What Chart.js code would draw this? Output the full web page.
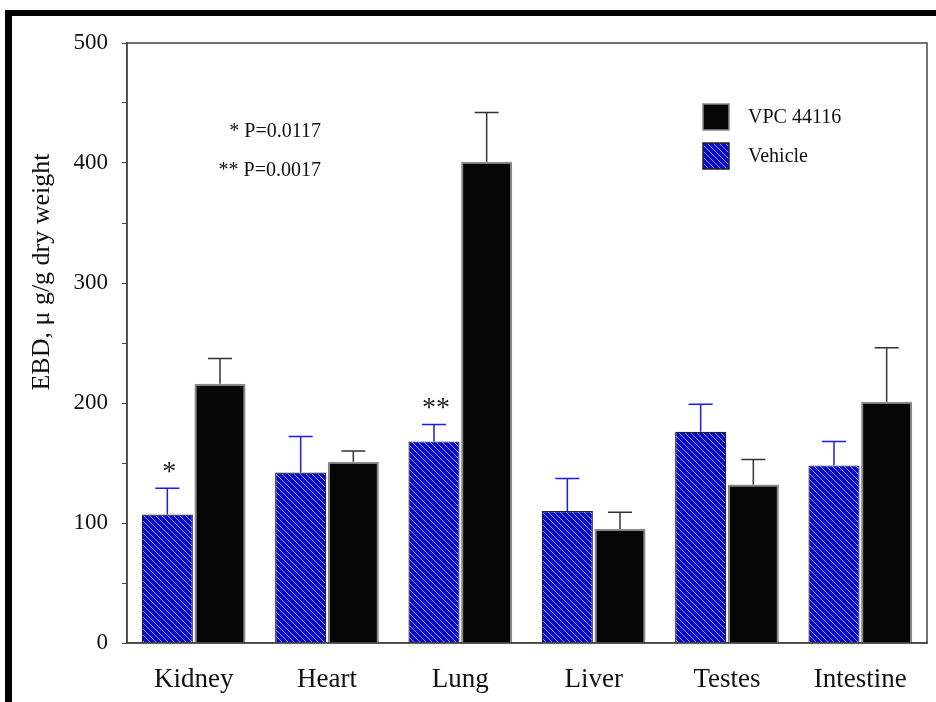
<!DOCTYPE html>
<html>
<head>
<meta charset="utf-8">
<script src="https://cdn.jsdelivr.net/npm/chart.js@4"></script>
<style>
  body { margin: 0; background: #fff; }
  #wrap { position: relative; width: 936px; height: 702px; }
  #frame { position: absolute; left: 5px; top: 10px; width: 931px; height: 692px;
           border-top: 6px solid #000; border-left: 7px solid #000; box-sizing: border-box; }
  canvas { position: absolute; left: 0; top: 0; }
</style>
</head>
<body>
<div id="wrap">
  <div id="frame"></div>
  <canvas id="ebdChart" width="936" height="702"></canvas>
</div>
<script>
const organs = ['Kidney', 'Heart', 'Lung', 'Liver', 'Testes', 'Intestine'];
const vehicle = [107, 142, 168, 110, 176, 148];
const vehicleErr = [22, 30, 14, 27, 23, 20];
const vpc = [216, 151, 401, 95, 132, 201];
const vpcErr = [21, 9, 41, 14, 21, 45];
const sigMarks = ['*', '', '**', '', '', ''];
const pNotes = ['* P=0.0117', '** P=0.0017'];

const serif = 'Liberation Serif';

// blue hatch like the original print
function makeHatch() {
    const s = 6;
    const c = document.createElement('canvas');
    c.width = s; c.height = s;
    const p = c.getContext('2d');
    p.fillStyle = '#0808c8';
    p.fillRect(0, 0, s, s);
    p.strokeStyle = '#8a96ff';
    p.lineWidth = 1;
    for (let k = -1; k <= 1; k++) {
        p.beginPath();
        p.moveTo(-1, -1 + k * s);
        p.lineTo(s + 1, s + 1 + k * s);
        p.stroke();
    }
    return p.createPattern(c, 'repeat');
}
const hatch = makeHatch();

const extras = {
    id: 'extras',
    afterDatasetsDraw(chart) {
        const { ctx, chartArea: a, scales: { y } } = chart;
        ctx.save();

        // box around the plot
        ctx.strokeStyle = '#444';
        ctx.lineWidth = 1.5;
        ctx.strokeRect(a.left, a.top, a.right - a.left, a.bottom - a.top);

        // error bars (upper only)
        chart.data.datasets.forEach((ds, i) => {
            const meta = chart.getDatasetMeta(i);
            ctx.strokeStyle = ds.errorColor;
            ctx.lineWidth = 1.5;
            meta.data.forEach((bar, j) => {
                const yTop = y.getPixelForValue(ds.data[j] + ds.errors[j]);
                ctx.beginPath();
                ctx.moveTo(bar.x, bar.y);
                ctx.lineTo(bar.x, yTop);
                ctx.moveTo(bar.x - 12, yTop);
                ctx.lineTo(bar.x + 12, yTop);
                ctx.stroke();
            });
        });

        // significance stars over vehicle bars
        const vMeta = chart.getDatasetMeta(0);
        ctx.fillStyle = '#222';
        ctx.font = '28px ' + serif;
        ctx.textAlign = 'center';
        ctx.textBaseline = 'middle';
        sigMarks.forEach((m, j) => {
            if (!m) return;
            const yTop = y.getPixelForValue(vehicle[j] + vehicleErr[j]);
            ctx.fillText(m, vMeta.data[j].x + 2, yTop - 16);
        });

        // p-value notes
        ctx.font = '20px ' + serif;
        ctx.fillStyle = '#111';
        ctx.textAlign = 'right';
        pNotes.forEach((t, k) => ctx.fillText(t, 321, 132 + k * 39));

        // legend (VPC first, then Vehicle)
        const order = [1, 0];
        ctx.textAlign = 'left';
        ctx.font = '20px ' + serif;
        order.forEach((di, k) => {
            const ds = chart.data.datasets[di];
            const top = 104 + k * 39;
            ctx.fillStyle = ds.backgroundColor;
            ctx.fillRect(703, top, 26, 26);
            ctx.strokeStyle = ds.borderColor;
            ctx.lineWidth = 1.5;
            ctx.strokeRect(703, top, 26, 26);
            ctx.fillStyle = '#111';
            ctx.fillText(ds.label, 748, top + 14);
        });

        // y axis title
        ctx.translate(42, 272);
        ctx.rotate(-Math.PI / 2);
        ctx.textAlign = 'center';
        ctx.font = '26px ' + serif;
        ctx.fillText('EBD, \u03bc g/g dry weight', 0, 0);
        ctx.restore();
    }
};

new Chart(document.getElementById('ebdChart'), {
    type: 'bar',
    data: {
        labels: organs,
        datasets: [
            {
                label: 'Vehicle',
                data: vehicle,
                errors: vehicleErr,
                errorColor: '#1a1aff',
                backgroundColor: hatch,
                borderColor: '#222',
                borderWidth: 1.2,
                categoryPercentage: 0.79,
                barPercentage: 0.97
            },
            {
                label: 'VPC 44116',
                data: vpc,
                errors: vpcErr,
                errorColor: '#333',
                backgroundColor: '#050505',
                borderColor: '#888',
                borderWidth: 2,
                categoryPercentage: 0.79,
                barPercentage: 0.97
            }
        ]
    },
    options: {
        responsive: false,
        animation: false,
        layout: { padding: { top: 43, right: 9, left: 0, bottom: 0 } },
        plugins: {
            legend: { display: false },
            tooltip: { enabled: false }
        },
        scales: {
            x: {
                grid: { display: false, drawTicks: false },
                border: { display: true, color: '#444', width: 1.5 },
                ticks: { color: '#111', font: { family: serif, size: 27 }, padding: 21 },
                afterFit: s => { s.height = 59; }
            },
            y: {
                min: 0,
                max: 500,
                grid: { drawOnChartArea: false, tickLength: 5, color: '#444' },
                border: { color: '#444', width: 1.5 },
                ticks: {
                    stepSize: 50,
                    autoSkip: false,
                    padding: 14,
                    color: '#111',
                    font: { family: serif, size: 23 },
                    callback: v => (v % 100 === 0 ? v : '')
                },
                afterFit: s => { s.width = 127; }
            }
        }
    },
    plugins: [extras]
});
</script>
</body>
</html>
